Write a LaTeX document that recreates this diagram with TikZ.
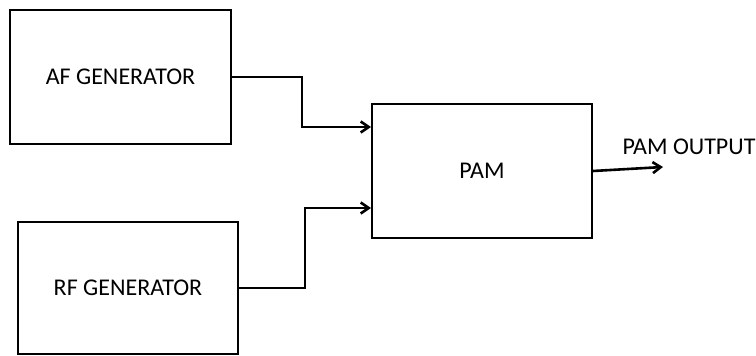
\documentclass[tikz,border=0pt]{standalone}
\usepackage{fontspec}
\setmainfont{Carlito}
\usetikzlibrary{arrows.meta}
\tikzset{
  block/.style={draw, line width=2pt, minimum width=221pt, minimum height=134pt, inner sep=0pt, font=\fontsize{24}{28}\selectfont},
  wire/.style={line width=2.6pt, -{Straight Barb[length=8pt,width=11pt]}},
  label/.style={font=\fontsize{24}{28}\selectfont, inner sep=0pt}
}
\begin{document}
\begin{tikzpicture}[x=1pt, y=-1pt]
  \useasboundingbox (0,0) rectangle (756,356);
  % generators
  \node[block] (af) at (120.5,77) {AF GENERATOR};
  \node[block, minimum width=220pt, minimum height=132pt] (rf) at (128,288) {RF GENERATOR};
  % modulator
  \node[block, minimum width=220pt] (pam) at (482,171) {PAM};
  % links
  \coordinate (afbend) at (302,127);
  \coordinate (rfbend) at (305,208);
  \draw[wire] (af.east) -| (afbend) -- (afbend -| pam.west);
  \draw[wire] (rf.east) -| (rfbend) -- (rfbend -| pam.west);
  % output
  \coordinate (out) at (663,167);
  \draw[wire] (pam.east) -- (out);
  \node[label] (outlbl) at (689,147) {PAM OUTPUT};
\end{tikzpicture}
\end{document}
